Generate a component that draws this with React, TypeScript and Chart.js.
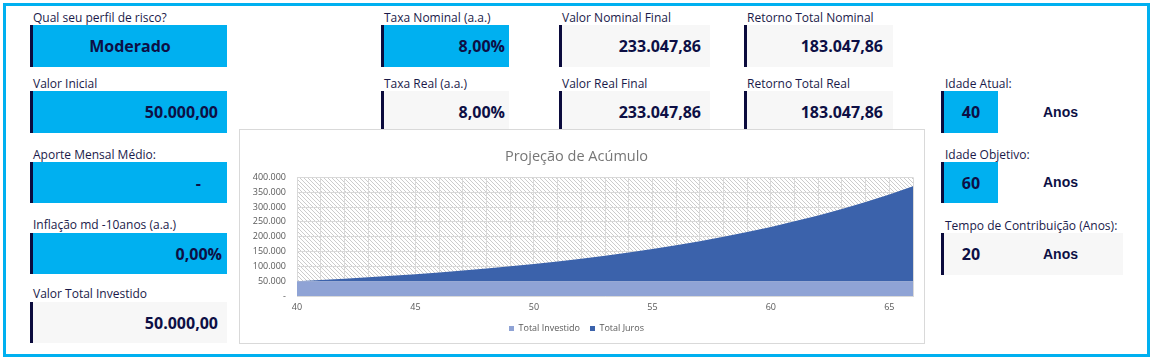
import React, { useEffect, useRef } from 'react';
import { Chart, registerables } from 'chart.js';

Chart.register(...registerables);

// ---- Chart data ----
const AGES = ['40', '41', '42', '43', '44', '45', '46', '47', '48', '49', '50', '51', '52', '53', '54', '55', '56', '57', '58', '59', '60', '61', '62', '63', '64', '65', '66'];
const TOTAL_INVESTIDO = [50000, 50000, 50000, 50000, 50000, 50000, 50000, 50000, 50000, 50000, 50000, 50000, 50000, 50000, 50000, 50000, 50000, 50000, 50000, 50000, 50000, 50000, 50000, 50000, 50000, 50000, 50000];
const TOTAL_JUROS = [0, 4000, 8320, 12986, 18024, 23466, 29344, 35691, 42547, 49950, 57946, 66582, 75909, 85981, 96860, 108608, 121297, 135001, 149801, 165785, 183048, 201692, 221827, 243573, 267059, 292424, 319818];
const SERIES_NAMES = ['Total Investido', 'Total Juros'];
const Y_MIN = 0;
const Y_MAX = 400000;
const Y_STEP = 50000;
const X_LABEL_EVERY = 5;
const CHART_TITLE = 'Projeção de Acúmulo';

const COLOR_INVESTIDO = '#8FA3D5';
const COLOR_JUROS = '#3B62AB';

const fmtThousands = (v: number) =>
  v === 0 ? '-' : String(Math.round(v)).replace(/\B(?=(\d{3})+(?!\d))/g, '.');

const hatchPlugin = {
  id: 'hatchBg',
  beforeDraw(chart: any) {
    const { ctx, chartArea: a } = chart;
    if (!a) return;
    const tile = document.createElement('canvas');
    tile.width = 4;
    tile.height = 4;
    const t = tile.getContext('2d')!;
    t.fillStyle = '#cccccc';
    for (let i = 0; i < 4; i++) t.fillRect(i, i, 1, 1);
    const pat = ctx.createPattern(tile, 'repeat');
    ctx.save();
    ctx.fillStyle = '#ffffff';
    ctx.fillRect(a.left, a.top, a.right - a.left, a.bottom - a.top);
    ctx.fillStyle = pat;
    ctx.fillRect(a.left, a.top, a.right - a.left, a.bottom - a.top);
    ctx.restore();
  },
};

function AreaChart() {
  const ref = useRef<HTMLCanvasElement>(null);
  useEffect(() => {
    if (!ref.current) return;
    const chart = new Chart(ref.current, {
      type: 'line',
      data: {
        labels: AGES,
        datasets: [
          {
            label: SERIES_NAMES[0],
            data: TOTAL_INVESTIDO,
            backgroundColor: COLOR_INVESTIDO,
            borderColor: COLOR_INVESTIDO,
            borderWidth: 0,
            pointRadius: 0,
            fill: 'origin',
            tension: 0,
          },
          {
            label: SERIES_NAMES[1],
            data: TOTAL_JUROS,
            backgroundColor: COLOR_JUROS,
            borderColor: COLOR_JUROS,
            borderWidth: 0,
            pointRadius: 0,
            fill: '-1',
            tension: 0,
          },
        ],
      },
      options: {
        animation: false,
        responsive: false,
        maintainAspectRatio: false,
        layout: { padding: { left: 0, right: 11, top: 0, bottom: 0 } },
        plugins: {
          tooltip: { enabled: false },
          title: {
            display: true,
            text: CHART_TITLE,
            color: '#767676',
            font: { family: 'Open Sans', size: 14.5, weight: 'normal' },
            padding: { top: 18, bottom: 12 },
          },
          legend: {
            display: true,
            position: 'bottom',
            labels: {
              boxWidth: 5,
              boxHeight: 5,
              padding: 10,
              color: '#595959',
              font: { family: 'Open Sans', size: 9 },
            },
          },
        },
        scales: {
          x: {
            type: 'category',
            offset: false,
            grid: { display: true, color: '#D9D9D9', drawTicks: false, offset: false },
            border: { display: true, color: '#D9D9D9' },
            ticks: {
              autoSkip: false,
              maxRotation: 0,
              padding: 6,
              color: '#595959',
              font: { family: 'Open Sans', size: 9 },
              callback: function (this: any, _v: any, i: number) {
                const lab = AGES[i];
                return Number(lab) % X_LABEL_EVERY === 0 ? lab : '';
              },
            },
            afterFit: (s: any) => {
              s.height = 18;
            },
          },
          y: {
            stacked: true,
            min: Y_MIN,
            max: Y_MAX,
            grid: { color: '#D9D9D9', drawTicks: false },
            border: { display: true, color: '#D9D9D9' },
            ticks: {
              stepSize: Y_STEP,
              padding: 11,
              color: '#595959',
              font: { family: 'Open Sans', size: 9 },
              callback: (v: any) => fmtThousands(Number(v)),
            },
            afterFit: (s: any) => {
              s.width = 57;
            },
          },
        },
      },
      plugins: [hatchPlugin],
    });
    return () => chart.destroy();
  }, []);
  return <canvas ref={ref} width={684} height={213} style={{ display: 'block', width: 684, height: 213 }} />;
}

// ---- Dashboard layout ----
const CYAN = '#00B0F0';
const GRAY = '#F7F7F7';
const NAVY = '#0D0F45';
const LABEL_COLOR = '#1A1A4A';

function Label({ x, y, text }: { x: number; y: number; text: string }) {
  return (
    <div
      style={{
        position: 'absolute',
        left: x,
        top: y,
        fontSize: 12,
        lineHeight: '16px',
        color: LABEL_COLOR,
        whiteSpace: 'nowrap',
      }}
    >
      {text}
    </div>
  );
}

function Box({
  x, y, w, h, bg, value, align, pr = 9,
}: { x: number; y: number; w: number; h: number; bg: string; value: string; align: 'center' | 'right'; pr?: number }) {
  return (
    <div
      style={{
        position: 'absolute',
        left: x,
        top: y,
        width: w,
        height: h,
        background: bg,
        borderLeft: '3px solid #0B0B3D',
        boxSizing: 'border-box',
        display: 'flex',
        alignItems: 'center',
        justifyContent: align === 'center' ? 'center' : 'flex-end',
        paddingRight: align === 'right' ? pr : 0,
        paddingLeft: 0,
        fontWeight: 700,
        fontSize: 16,
        color: NAVY,
        whiteSpace: 'nowrap',
      }}
    >
      {value}
    </div>
  );
}

function Anos({ y }: { y: number }) {
  return (
    <div
      style={{
        position: 'absolute',
        left: 1043,
        top: y,
        height: 42,
        lineHeight: '42px',
        fontFamily: 'Liberation Sans, Arial, sans-serif',
        fontWeight: 700,
        fontSize: 14,
        color: NAVY,
      }}
    >
      Anos
    </div>
  );
}

export default function App() {
  return (
    <div
      style={{
        position: 'absolute',
        left: 0,
        top: 0,
        width: 1152,
        height: 361,
        background: '#ffffff',
        fontFamily: "'Open Sans', sans-serif",
      }}
    >
      <div
        style={{
          position: 'absolute',
          left: 3,
          top: 3,
          width: 1147,
          height: 354,
          border: `3px solid ${CYAN}`,
          boxSizing: 'border-box',
        }}
      />

      {/* Column A */}
      <Label x={33} y={10} text="Qual seu perfil de risco?" />
      <Box x={30} y={25} w={197} h={42} bg={CYAN} value="Moderado" align="center" />
      <Label x={33} y={76} text="Valor Inicial" />
      <Box x={30} y={91} w={197} h={42} bg={CYAN} value="50.000,00" align="right" pr={9} />
      <Label x={33} y={147} text="Aporte Mensal Médio:" />
      <Box x={30} y={162} w={197} h={41} bg={CYAN} value="-" align="right" pr={26} />
      <Label x={33} y={217} text="Inflação md -10anos (a.a.)" />
      <Box x={30} y={233} w={197} h={41} bg={CYAN} value="0,00%" align="right" pr={5} />
      <Label x={33} y={286} text="Valor Total Investido" />
      <Box x={30} y={302} w={197} h={41} bg={GRAY} value="50.000,00" align="right" pr={9} />

      {/* Column B */}
      <Label x={384} y={10} text="Taxa Nominal (a.a.)" />
      <Box x={381} y={25} w={128} h={42} bg={CYAN} value="8,00%" align="right" pr={4} />
      <Label x={384} y={76} text="Taxa Real (a.a.)" />
      <Box x={381} y={91} w={128} h={42} bg={GRAY} value="8,00%" align="right" pr={4} />

      {/* Column C */}
      <Label x={562} y={10} text="Valor Nominal Final" />
      <Box x={559} y={25} w={151} h={42} bg={GRAY} value="233.047,86" align="right" pr={9} />
      <Label x={562} y={76} text="Valor Real Final" />
      <Box x={559} y={91} w={151} h={42} bg={GRAY} value="233.047,86" align="right" pr={9} />

      {/* Column D */}
      <Label x={747} y={10} text="Retorno Total Nominal" />
      <Box x={744} y={25} w={149} h={42} bg={GRAY} value="183.047,86" align="right" pr={10} />
      <Label x={747} y={76} text="Retorno Total Real" />
      <Box x={744} y={91} w={149} h={42} bg={GRAY} value="183.047,86" align="right" pr={10} />

      {/* Column E */}
      <Label x={945} y={76} text="Idade Atual:" />
      <Box x={941} y={91} w={57} h={42} bg={CYAN} value="40" align="center" />
      <Anos y={91} />
      <Label x={945} y={147} text="Idade Objetivo:" />
      <Box x={941} y={162} w={57} h={41} bg={CYAN} value="60" align="center" />
      <Anos y={161} />
      <Label x={945} y={218} text="Tempo de Contribuição (Anos):" />
      <div
        style={{
          position: 'absolute',
          left: 941,
          top: 233,
          width: 182,
          height: 42,
          background: GRAY,
          borderLeft: '3px solid #0B0B3D',
          boxSizing: 'border-box',
        }}
      />
      <div
        style={{
          position: 'absolute',
          left: 944,
          top: 233,
          width: 54,
          height: 42,
          lineHeight: '42px',
          textAlign: 'center',
          fontWeight: 700,
          fontSize: 16,
          color: NAVY,
        }}
      >
        20
      </div>
      <Anos y={233} />

      {/* Chart */}
      <div
        style={{
          position: 'absolute',
          left: 239,
          top: 129,
          width: 686,
          height: 215,
          border: '1px solid #D9D9D9',
          boxSizing: 'border-box',
          background: '#ffffff',
        }}
      >
        <AreaChart />
      </div>
    </div>
  );
}
